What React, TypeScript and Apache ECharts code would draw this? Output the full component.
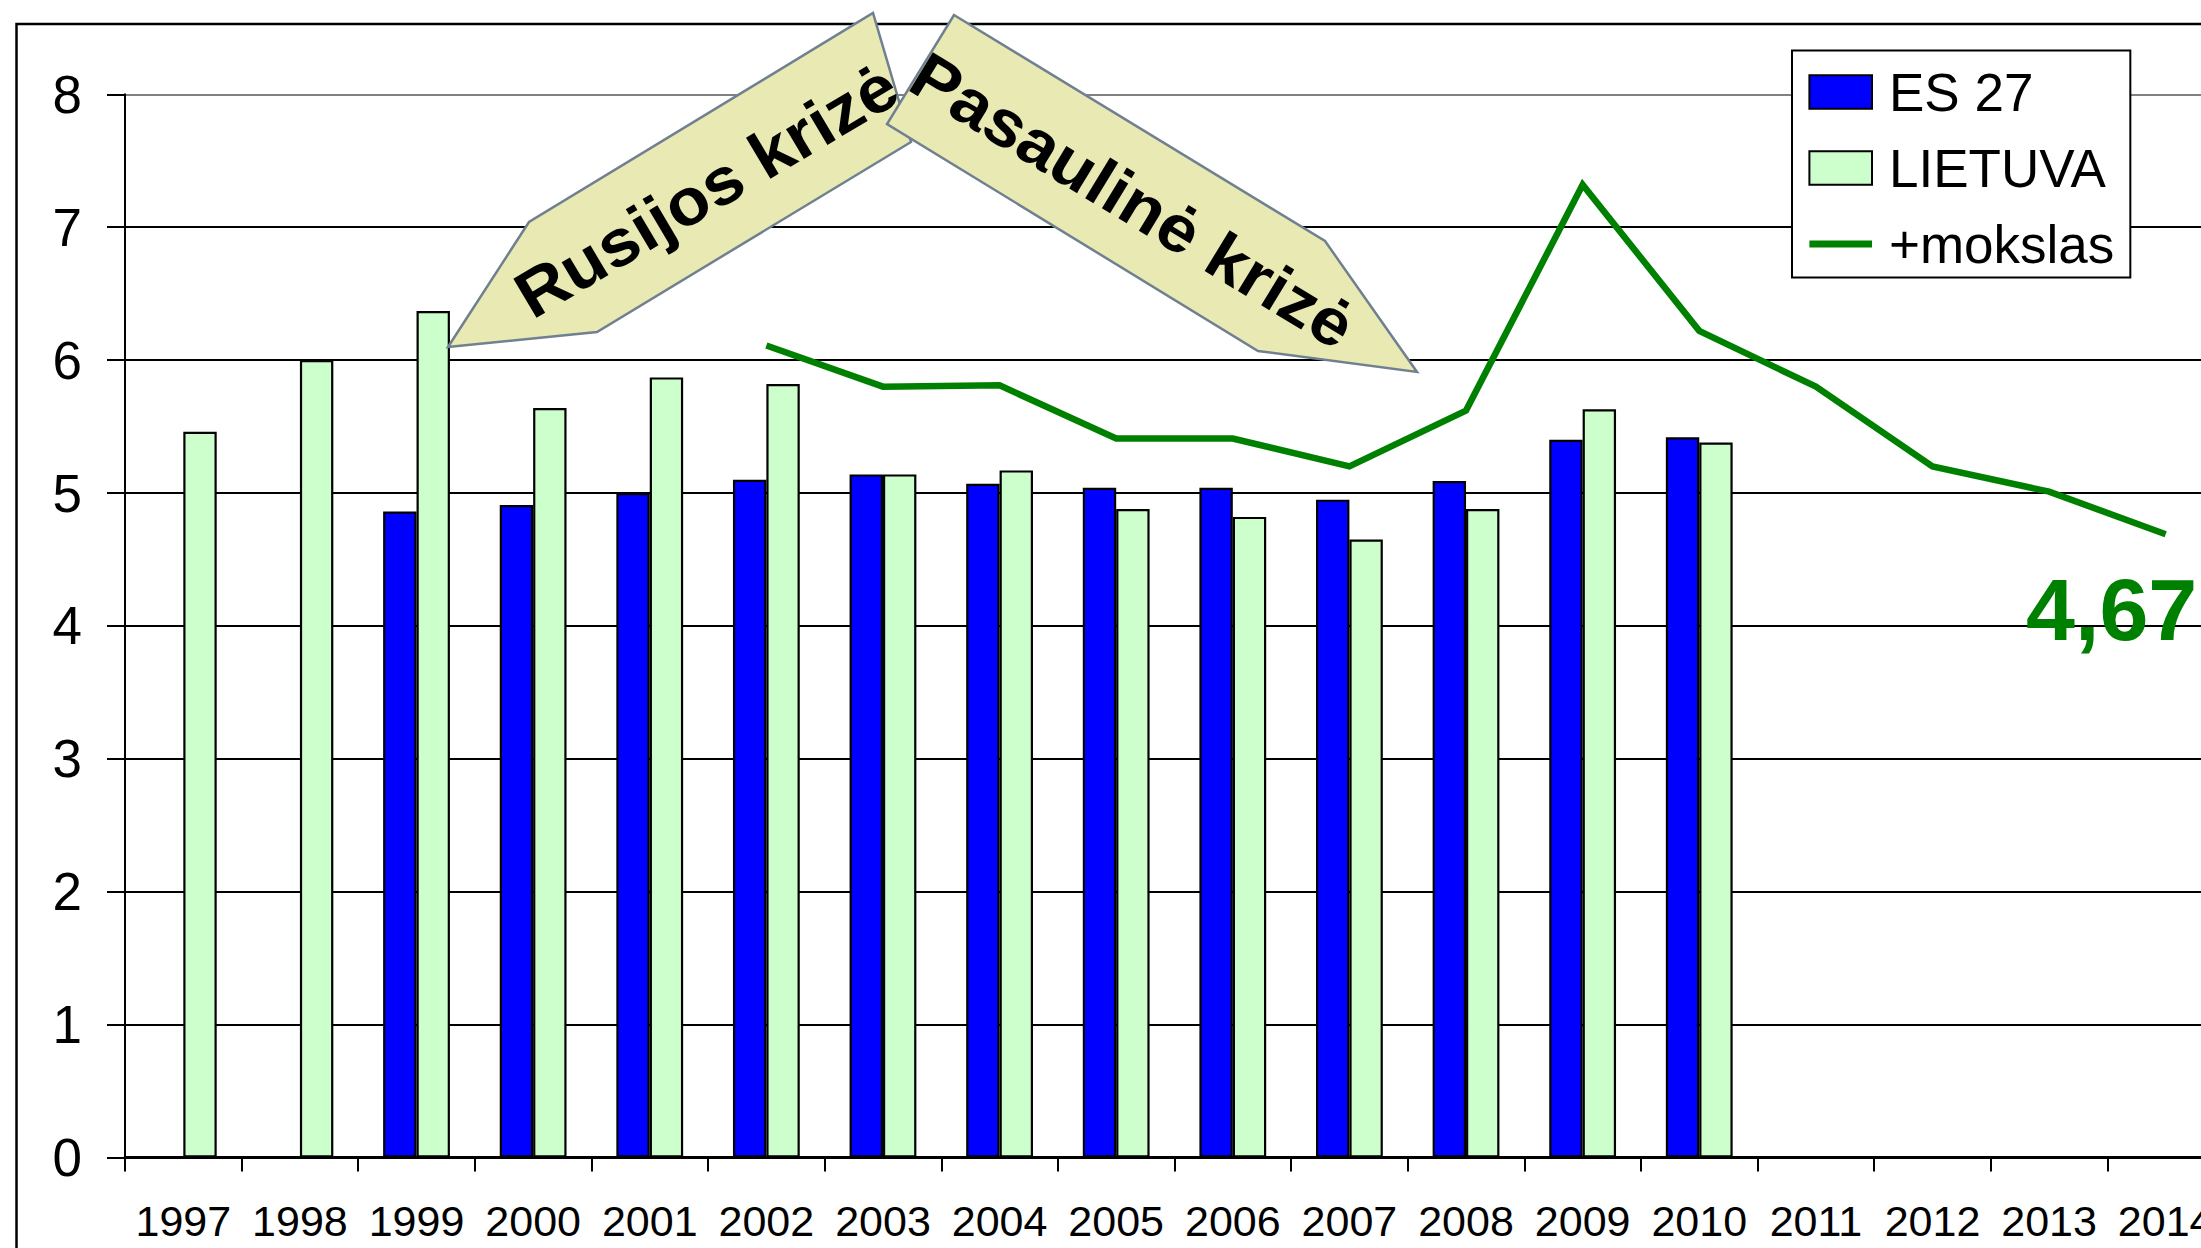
import React, { useEffect, useRef } from 'react';
import * as echarts from 'echarts';

const years = ['1997', '1998', '1999', '2000', '2001', '2002', '2003', '2004', '2005', '2006', '2007', '2008', '2009', '2010', '2011', '2012', '2013', '2014'];
const es27 = [null, null, 4.86, 4.91, 5.0, 5.1, 5.14, 5.07, 5.04, 5.04, 4.95, 5.09, 5.4, 5.42, null, null, null, null];
const lietuva = [5.46, 6.0, 6.37, 5.64, 5.87, 5.82, 5.14, 5.17, 4.88, 4.82, 4.65, 4.88, 5.63, 5.38, null, null, null, null];
const mokslas = [null, null, null, null, null, 6.11, 5.8, 5.81, 5.41, 5.41, 5.2, 5.62, 7.32, 6.22, 5.8, 5.2, 5.01, 4.69];
const seriesNames = ['ES 27', 'LIETUVA', '+mokslas'];
const lastLabel = '4,67';
const arrowTexts = ['Rusijos krizė', 'Pasaulinė krizė'];

const FONT = '"Liberation Sans", Arial, sans-serif';

export default function App() {
  const ref = useRef<HTMLDivElement>(null);
  useEffect(() => {
    if (!ref.current) return;
    const chart = echarts.init(ref.current, undefined, { renderer: 'svg' });
    const gridColors = ['#000', '#000', '#000', '#000', '#000', '#000', '#000', '#000', '#808080'];
    chart.setOption({
      animation: false,
      backgroundColor: '#fff',
      textStyle: { fontFamily: FONT },
      grid: { left: 125, right: 16, top: 94.3, bottom: 90.5, containLabel: false },
      legend: {
        orient: 'vertical',
        left: 1792,
        top: 50.5,
        padding: [15, 16, 7, 16.4],
        itemWidth: 62.6,
        itemHeight: 33.5,
        itemGap: 23,
        backgroundColor: '#fff',
        borderColor: '#000',
        borderWidth: 2,
        selectedMode: false,
        symbolKeepAspect: true,
        textStyle: { fontSize: 53, fontFamily: FONT, color: '#000', padding: [0, 0, 0, 12] },
        data: [
          { name: seriesNames[0], icon: 'rect', itemStyle: { borderColor: '#000', borderWidth: 2 } },
          { name: seriesNames[1], icon: 'rect', itemStyle: { borderColor: '#000', borderWidth: 2 } },
          { name: seriesNames[2], icon: 'path://M0,0h100v11h-100z', itemStyle: { color: '#008000', borderWidth: 0 } },
        ],
      },
      xAxis: {
        type: 'category',
        data: years,
        boundaryGap: true,
        axisLine: { show: true, lineStyle: { color: '#000', width: 3 } },
        axisTick: { show: true, length: 14, lineStyle: { color: '#000', width: 2 } },
        axisLabel: { interval: 0, fontSize: 43, color: '#000', margin: 42, fontFamily: FONT },
        splitLine: { show: false },
      },
      yAxis: {
        type: 'value',
        min: 0,
        max: 8,
        interval: 1,
        axisLine: { show: true, lineStyle: { color: '#000', width: 2 } },
        axisTick: { show: true, length: 18, lineStyle: { color: '#000', width: 2 } },
        axisLabel: { fontSize: 53, color: '#000', margin: 43, fontFamily: FONT },
        splitLine: { show: true, lineStyle: { color: gridColors, width: 2 } },
      },
      series: [
        {
          name: seriesNames[0],
          type: 'bar',
          data: es27,
          barWidth: 33.4,
          barGap: '0%',
          itemStyle: { color: '#0000FF', borderColor: '#000', borderWidth: 2.2 },
          z: 3,
        },
        {
          name: seriesNames[1],
          type: 'bar',
          data: lietuva,
          barWidth: 33.4,
          barGap: '0%',
          itemStyle: { color: '#CCFFCC', borderColor: '#000', borderWidth: 2.2 },
          z: 3,
        },
        {
          name: seriesNames[2],
          type: 'line',
          data: mokslas,
          symbol: 'none',
          showSymbol: false,
          lineStyle: { color: '#008000', width: 6.5, join: 'miter' },
          itemStyle: { color: '#008000' },
          z: 5,
        },
      ],
      graphic: [
        {
          type: 'rect',
          silent: true,
          z: 0,
          shape: { x: 16.5, y: 24, width: 2400, height: 1400 },
          style: { fill: 'none', stroke: '#000', lineWidth: 2.5 },
        },
        {
          type: 'polygon',
          silent: true,
          z: 100,
          shape: { points: [[448, 347], [529, 222], [873, 13], [911, 142], [597, 332]] },
          style: { fill: '#E9E9B4', stroke: '#708090', lineWidth: 2.5 },
        },
        {
          type: 'text',
          silent: true,
          z: 101,
          x: 706,
          y: 190,
          rotation: 0.536,
          scaleX: 1.06,
          style: {
            text: arrowTexts[0],
            fontSize: 66,
            fontWeight: 'bold',
            fontFamily: FONT,
            fill: '#000',
            align: 'center',
            verticalAlign: 'middle',
          },
        },
        {
          type: 'polygon',
          silent: true,
          z: 102,
          shape: { points: [[954, 15], [1325, 241], [1417, 372], [1258, 351], [887, 124]] },
          style: { fill: '#E9E9B4', stroke: '#708090', lineWidth: 2.5 },
        },
        {
          type: 'text',
          silent: true,
          z: 103,
          x: 1133,
          y: 200,
          rotation: -0.547,
          scaleX: 1.06,
          style: {
            text: arrowTexts[1],
            fontSize: 66,
            fontWeight: 'bold',
            fontFamily: FONT,
            fill: '#000',
            align: 'center',
            verticalAlign: 'middle',
          },
        },
        {
          type: 'text',
          silent: true,
          z: 104,
          x: 2026,
          y: 565,
          style: {
            text: lastLabel,
            fontSize: 88,
            fontWeight: 'bold',
            fontFamily: FONT,
            fill: '#008000',
            align: 'left',
            verticalAlign: 'top',
          },
        },
      ],
    });
    return () => chart.dispose();
  }, []);
  return (
    <div style={{ position: 'fixed', left: 0, top: 0, width: 2201, height: 1248, overflow: 'hidden', background: '#fff' }}>
      <div ref={ref} style={{ width: 2240, height: 1248 }} />
    </div>
  );
}
